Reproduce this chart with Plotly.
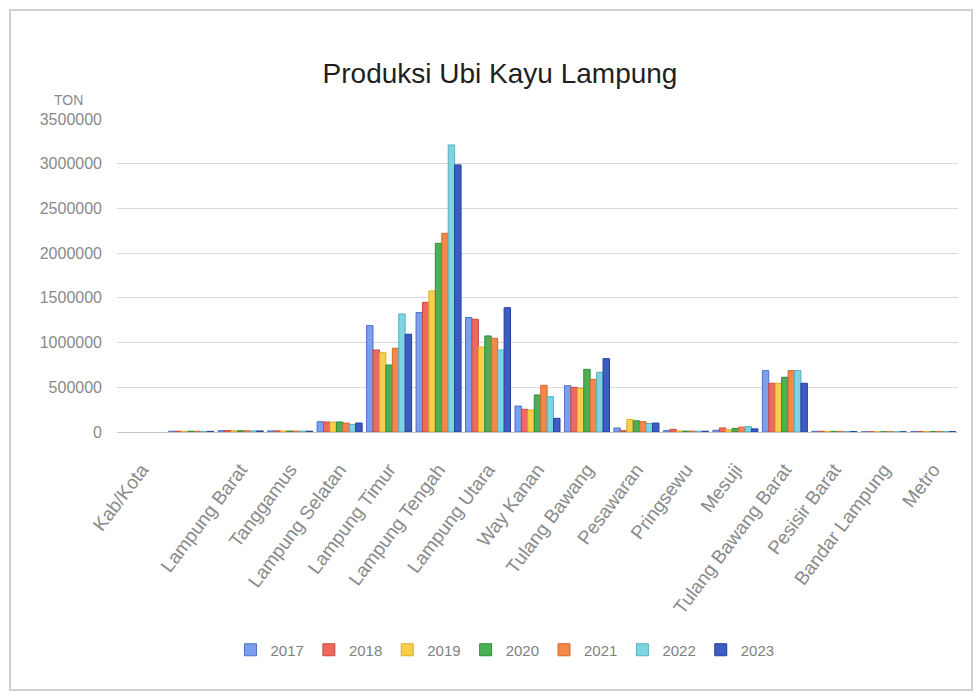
import plotly.graph_objects as go

categories = ["Kab/Kota", " ", "Lampung Barat", "Tanggamus", "Lampung Selatan",
              "Lampung Timur", "Lampung Tengah", "Lampung Utara", "Way Kanan",
              "Tulang Bawang", "Pesawaran", "Pringsewu", "Mesuji",
              "Tulang Bawang Barat", "Pesisir Barat", "Bandar Lampung", "Metro"]

years = ["2017", "2018", "2019", "2020", "2021", "2022", "2023"]

v2017 = [None, 9000, 15000, 12000, 115000, 1190000, 1335000, 1280000, 290000, 518000, 45000, 15000, 20000, 686000, 8000, 3000, 5000]
v2018 = [None, 9000, 16000, 13000, 112000, 917000, 1450000, 1260000, 254000, 500000, 15000, 30000, 45000, 545000, 8000, 3000, 5000]
v2019 = [None, 8000, 14000, 11000, 110000, 887000, 1577000, 950000, 246000, 489000, 140000, 12000, 25000, 545000, 7000, 2500, 4000]
v2020 = [None, 8000, 14000, 11000, 112000, 749000, 2110000, 1074000, 414000, 701000, 125000, 10000, 40000, 612000, 7000, 2500, 4000]
v2021 = [None, 8000, 13000, 10000, 100000, 936000, 2222000, 1048000, 522000, 589000, 115000, 10000, 55000, 686000, 7000, 2500, 4000]
v2022 = [None, 7000, 12000, 10000, 85000, 1320000, 3210000, 917000, 395000, 668000, 95000, 9000, 60000, 686000, 6000, 2000, 4000]
v2023 = [None, 7000, 12000, 9000, 100000, 1093000, 2987000, 1390000, 153000, 820000, 100000, 9000, 35000, 545000, 6000, 2000, 3500]

series = [v2017, v2018, v2019, v2020, v2021, v2022, v2023]
fills = ["#7A9FEE", "#EE6A5E", "#F7CF4A", "#4DAF55", "#F48848", "#7FD4E2", "#3D5CC4"]
edges = ["#4F72C8", "#C94A40", "#D9AE2A", "#2F8A3A", "#D06A2E", "#58AFC0", "#26409A"]

ytick_vals = [0, 500000, 1000000, 1500000, 2000000, 2500000, 3000000, 3500000]

FONT = "Liberation Sans, Arial, sans-serif"

fig = go.Figure()
for name, vals, fc, ec in zip(years, series, fills, edges):
    fig.add_trace(go.Bar(
        x=categories, y=vals, name=name,
        marker=dict(color=fc, line=dict(color=ec, width=1)),
    ))

fig.update_layout(
    width=976, height=696,
    paper_bgcolor="white", plot_bgcolor="white",
    margin=dict(l=117, r=18, t=119, b=264),
    barmode="group", bargap=0.09, bargroupgap=0,
    font=dict(family=FONT, color="#7f7f7f"),
    title=dict(text="Produksi Ubi Kayu Lampung", x=500/976, xref="container",
               y=1 - 73/696, yref="container", xanchor="center", yanchor="middle",
               font=dict(family=FONT, size=28, color="#1f1f1f")),
    showlegend=True,
    legend=dict(orientation="h", xref="container", yref="container",
                x=505/976, y=1 - 650/696, xanchor="center", yanchor="middle",
                font=dict(family=FONT, size=15, color="#7f7f7f"),
                itemwidth=30, tracegroupgap=0),
    xaxis=dict(type="category", categoryorder="array", categoryarray=categories,
               tickangle=-53, tickfont=dict(family=FONT, size=19, color="#8a8a8a"),
               showline=True, linecolor="#c8c8c8", linewidth=1,
               showgrid=False, ticks="", ticklabelstandoff=18),
    yaxis=dict(range=[0, 3500000], tickvals=ytick_vals,
               ticktext=[str(v) for v in ytick_vals],
               tickfont=dict(family=FONT, size=16, color="#8a8a8a"),
               showgrid=True, gridcolor="#d9d9d9", gridwidth=1,
               zeroline=False, showline=False, ticks="", ticklabelstandoff=14),
    annotations=[dict(text="TON", xref="paper", yref="paper", showarrow=False,
                      x=-49/841, y=1 + 19/313, xanchor="center", yanchor="middle",
                      font=dict(family=FONT, size=14, color="#8a8a8a"))],
    shapes=[dict(type="rect", xref="paper", yref="paper",
                 x0=-107/841, x1=1 + 14/841, y0=-258/313, y1=1 + 109/313,
                 line=dict(color="#cfcfcf", width=2), fillcolor="rgba(0,0,0,0)")],
)

fig.write_html("out.html")
